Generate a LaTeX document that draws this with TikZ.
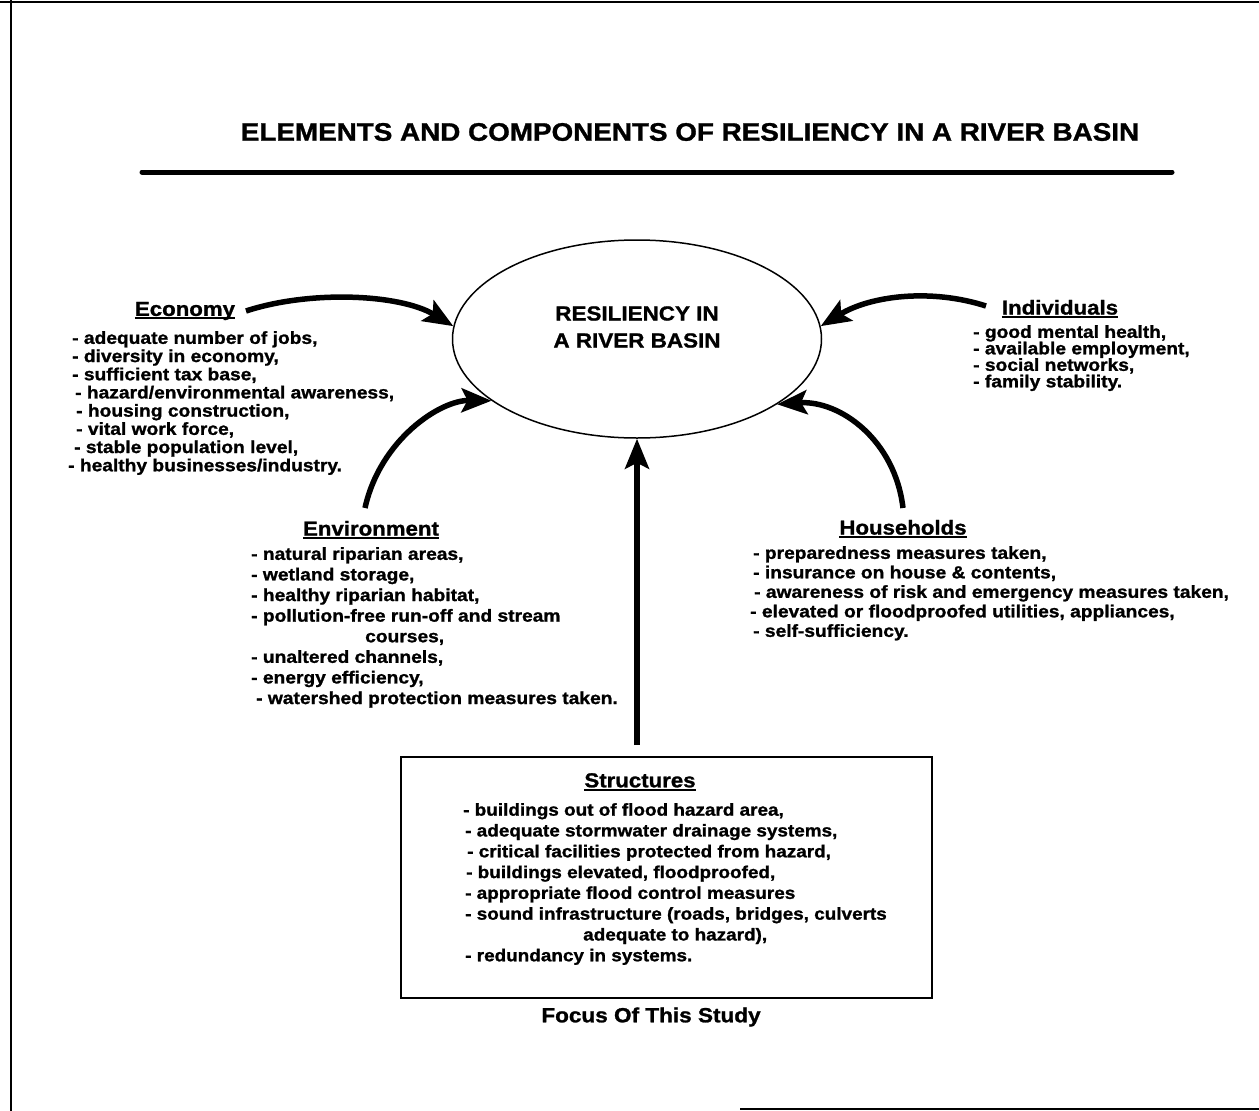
\documentclass[tikz,border=0pt]{standalone}
\usepackage{fontspec}
\setmainfont{Liberation Sans}[FakeStretch=1.1, BoldFeatures={FakeBold=1.2}]
\usetikzlibrary{arrows.meta,shapes.geometric}
\newcommand{\hdul}[1]{\setbox0\hbox{#1}\rlap{\rule[-3.5pt]{\wd0}{2pt}}\box0}
\begin{document}
\begin{tikzpicture}[x=1pt,y=-1pt,
  every node/.style={inner sep=0pt},
  lst/.style={anchor=north west, align=left, font=\bfseries\fontsize{17.45}{#1}\selectfont},
  lst/.default=19,
  hdr/.style={font=\bfseries\fontsize{20.2}{22}\selectfont},
  flow/.style={line width=5.5pt, -{Stealth[length=30pt,width=24pt,inset=6pt]}},
  framel/.style={line width=2.5pt}]
\useasboundingbox (0,0) rectangle (1259,1111);
% frame
\draw[framel] (0,2) -- (1259,2);
\draw[framel] (11,0) -- (11,1111);
\draw[line width=2pt] (740,1109) -- (1259,1109);
% title
\node[font=\bfseries\fontsize{25.3}{28}\selectfont] (title) at (690,132) {ELEMENTS AND COMPONENTS OF RESILIENCY IN A RIVER BASIN};
\coordinate (ruleL) at (142,172);
\coordinate (ruleR) at (1172,172);
\draw[line width=5pt, line cap=round] (ruleL) -- (ruleR);
% core
\node[ellipse, draw, line width=1.5pt, minimum width=369pt, minimum height=198pt] (core) at (637,339) {};
\node[align=center, font=\bfseries\fontsize{20.4}{27}\selectfont] (coreT) at (637,327) {RESILIENCY IN\\A RIVER BASIN};
% economy
\node[hdr] (ecoH) at (185,311) {\hdul{Economy}};
\node[lst=18.2] (ecoL) at (68,331) {\hspace*{4pt}- adequate number of jobs,\\
\hspace*{4pt}- diversity in economy,\\
\hspace*{4pt}- sufficient tax base,\\
\hspace*{7pt}- hazard/environmental awareness,\\
\hspace*{8pt}- housing construction,\\
\hspace*{8pt}- vital work force,\\
\hspace*{6pt}- stable population level,\\
- healthy businesses/industry.};
% individuals
\node[hdr] (indH) at (1060,309) {\hdul{Individuals}};
\node[lst=16.5] (indL) at (973,325) {- good mental health,\\
- available employment,\\
- social networks,\\
- family stability.};
% environment
\node[hdr] (envH) at (371,530) {\hdul{Environment}};
\node[lst=20.6] (envL) at (251,547) {- natural riparian areas,\\
- wetland storage,\\
- healthy riparian habitat,\\
- pollution-free run-off and stream\\
\hspace*{114pt}courses,\\
- unaltered channels,\\
- energy efficiency,\\
\hspace*{5pt}- watershed protection measures taken.};
% households
\node[hdr] (hhH) at (903,529) {\hdul{Households}};
\node[lst=19.5] (hhL) at (750,546) {\hspace*{3pt}- preparedness measures taken,\\
\hspace*{3pt}- insurance on house \& contents,\\
\hspace*{4pt}- awareness of risk and emergency measures taken,\\
- elevated or floodproofed utilities, appliances,\\
\hspace*{3pt}- self-sufficiency.};
% structures
\node[draw, line width=1.3pt, minimum width=531pt, minimum height=241pt] (box) at (666.5,877.5) {};
\node[hdr] (strH) at (640,782) {\hdul{Structures}};
\node[lst, font=\bfseries\fontsize{17.2}{20.8}\selectfont] (strL) at (463,803) {- buildings out of flood hazard area,\\
\hspace*{2pt}- adequate stormwater drainage systems,\\
\hspace*{4pt}- critical facilities protected from hazard,\\
\hspace*{3pt}- buildings elevated, floodproofed,\\
\hspace*{2pt}- appropriate flood control measures\\
\hspace*{2pt}- sound infrastructure (roads, bridges, culverts\\
\hspace*{120pt}adequate to hazard),\\
\hspace*{2pt}- redundancy in systems.};
\node[font=\bfseries\fontsize{20.5}{24}\selectfont] (focus) at (651,1017) {Focus Of This Study};
% connectors
\coordinate (ecoS) at (246,311);
\coordinate (indS) at (986,306);
\coordinate (envS) at (365,508);
\coordinate (hhS) at (903,508);
\coordinate (boxS) at (637,745);
\draw[flow] (ecoS) .. controls (310,290) and (400,294) .. (core.176);
\draw[flow] (indS) .. controls (930,288) and (870,296) .. (core.4);
\draw[flow] (envS) .. controls (380,440) and (440,400) .. (core.203);
\draw[flow] (hhS) .. controls (895,440) and (840,400) .. (core.-25);
\draw[flow] (boxS) -- (core.south);
\end{tikzpicture}
\end{document}
